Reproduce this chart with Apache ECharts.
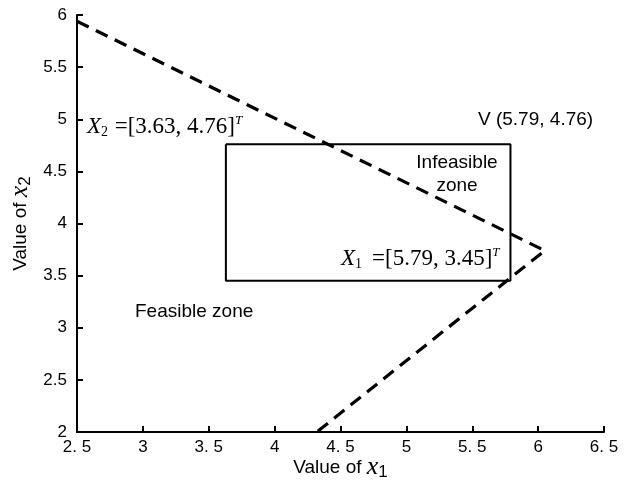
<!DOCTYPE html>
<html>
<head>
<meta charset="utf-8">
<script src="https://cdn.jsdelivr.net/npm/echarts@6/dist/echarts.min.js"></script>
<style>
  html, body { margin: 0; padding: 0; background: #fff; }
  #chart { width: 632px; height: 487px; }
</style>
</head>
<body>
<div id="chart"></div>
<script>
// Boundary of the constraint (dashed wedge) in (x1, x2)
const boundaryX1 = [2.5, 6.05, 4.32];
const boundaryX2 = [5.94, 3.74, 2.0];

// Corner points of the rectangle region
const rectX1 = [3.63, 5.79, 5.79, 3.63, 3.63];
const rectX2 = [4.76, 4.76, 3.45, 3.45, 4.76];

// Axis tick labels
const xTicks = ['2. 5', '3', '3. 5', '4', '4. 5', '5', '5. 5', '6', '6. 5'];
const yTicks = ['2', '2.5', '3', '3.5', '4', '4.5', '5', '5.5', '6'];

const sans = 'Liberation Sans, Arial, sans-serif';
const serif = 'Liberation Serif, Times New Roman, serif';

const chart = echarts.init(document.getElementById('chart'), null, { renderer: 'canvas' });

function pairs(xs, ys) { return xs.map((x, i) => [x, ys[i]]); }

const axisLine = { show: true, onZero: false, lineStyle: { color: '#000', width: 2 } };
const axisTick = { show: true, inside: true, length: 6, lineStyle: { color: '#000', width: 2 } };

const nameRich = {
  a: { fontFamily: sans, fontSize: 19, color: '#000' },
  b: { fontFamily: serif, fontStyle: 'italic', fontSize: 26, color: '#000' },
  s: { fontFamily: sans, fontSize: 17, color: '#000', padding: [10, 0, 0, 0] }
};

chart.setOption({
  animation: false,
  backgroundColor: '#fff',
  grid: { left: 77, top: 15, right: 28, bottom: 55, containLabel: false, outerBoundsMode: 'none' },
  xAxis: {
    type: 'value', min: 2.5, max: 6.5, interval: 0.5,
    axisLine, axisTick, splitLine: { show: false },
    axisLabel: {
      color: '#000', fontFamily: sans, fontSize: 17, margin: 7,
      formatter: v => xTicks[Math.round((v - 2.5) / 0.5)]
    },
    name: '{a|Value of }{b|x}{s|1}',
    nameLocation: 'middle', nameGap: 22, nameMoveOverlap: false,
    nameTextStyle: { rich: nameRich }
  },
  yAxis: {
    type: 'value', min: 2, max: 6, interval: 0.5,
    axisLine, axisTick, splitLine: { show: false },
    axisLabel: {
      color: '#000', fontFamily: sans, fontSize: 17, margin: 10,
      formatter: v => yTicks[Math.round((v - 2) / 0.5)]
    },
    name: '{a|Value of }{b|x}{s|2}',
    nameLocation: 'middle', nameGap: 43, nameMoveOverlap: false,
    nameTextStyle: { rich: nameRich }
  },
  series: [
    {
      type: 'line', data: pairs(boundaryX1, boundaryX2),
      showSymbol: false, symbol: 'none', silent: true,
      lineStyle: { color: '#000', width: 3.2, type: [13, 8] }
    },
    {
      type: 'line', data: pairs(rectX1, rectX2),
      showSymbol: false, symbol: 'none', silent: true,
      lineStyle: { color: '#000', width: 2 }
    }
  ]
});

// Annotation texts
const eqRich = {
  X: { fontFamily: serif, fontStyle: 'italic', fontSize: 23, fill: '#000' },
  sub: { fontFamily: serif, fontSize: 14, fill: '#000', padding: [11, 0, 0, 0] },
  t: { fontFamily: serif, fontSize: 23, fill: '#000' },
  sup: { fontFamily: serif, fontStyle: 'italic', fontSize: 13, fill: '#000', padding: [0, 0, 13, 0] }
};

chart.setOption({
  graphic: [
    {
      type: 'text', left: 87, top: 114,
      style: { text: '{X|X}{sub|2}  {t|=[3.63, 4.76]}{sup|T}', rich: eqRich }
    },
    {
      type: 'text', left: 341, top: 246,
      style: { text: '{X|X}{sub|1}   {t|=[5.79, 3.45]}{sup|T}', rich: eqRich }
    },
    {
      type: 'text', left: 478, top: 110,
      style: { text: 'V (5.79, 4.76)', font: '19px ' + sans, fill: '#000' }
    },
    {
      type: 'text', x: 457, y: 151,
      style: { text: 'Infeasible\nzone', font: '19px ' + sans, fill: '#000', align: 'center', lineHeight: 23 }
    },
    {
      type: 'text', left: 135, top: 302,
      style: { text: 'Feasible zone', font: '19px ' + sans, fill: '#000' }
    }
  ]
});
</script>
</body>
</html>
